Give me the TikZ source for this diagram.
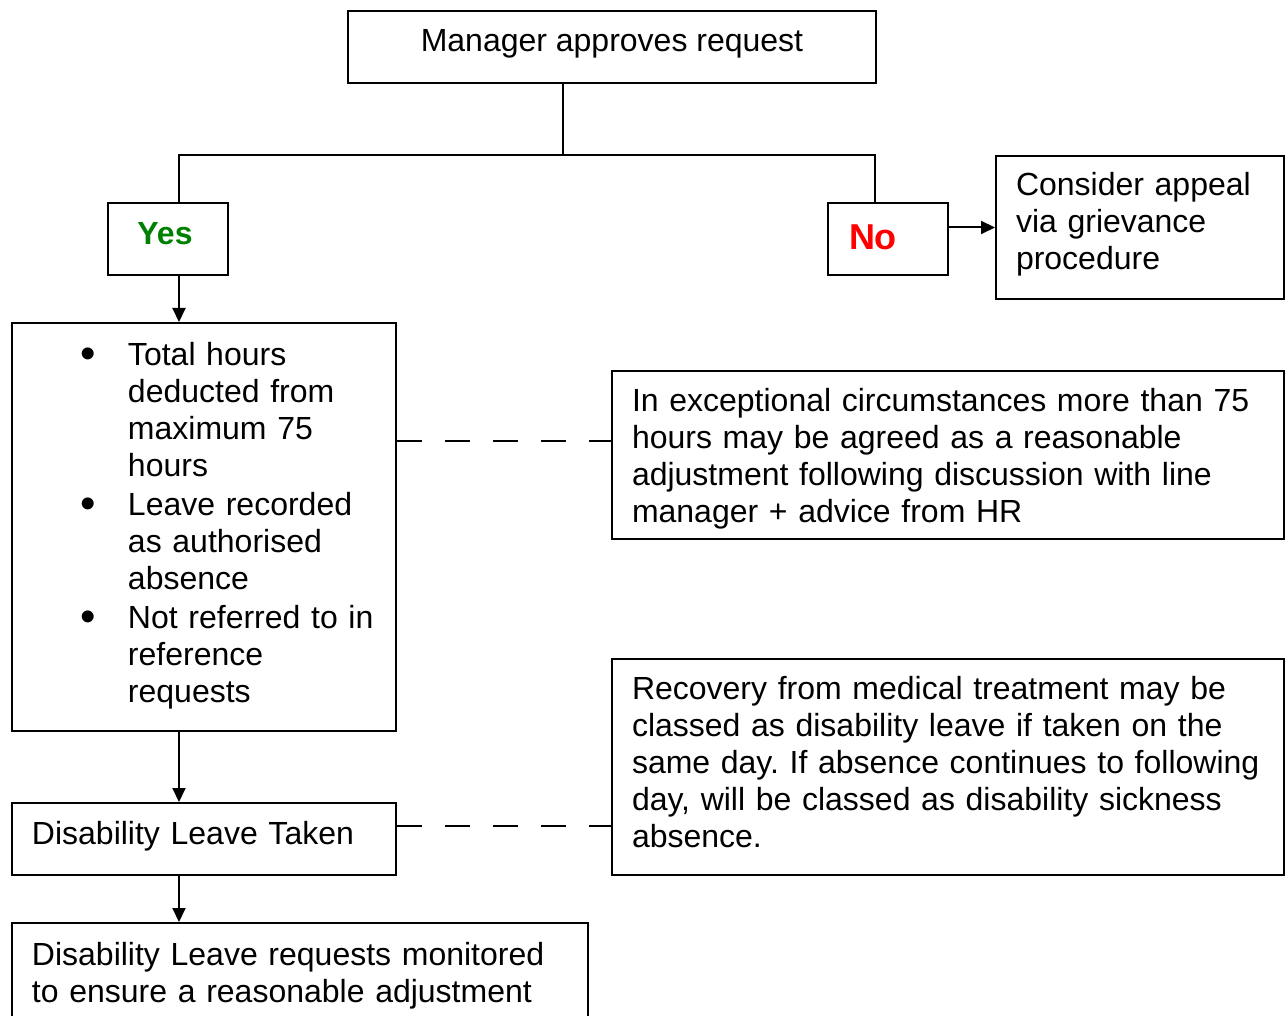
\documentclass[tikz,border=0pt]{standalone}
\usepackage{fontspec}
\setmainfont{Liberation Sans}
\usepackage{enumitem}
\usetikzlibrary{arrows.meta}
\definecolor{yesgreen}{RGB}{0,128,0}
\definecolor{nored}{RGB}{255,0,0}
\frenchspacing
\hyphenpenalty=10000
\newcommand{\bigbul}{\raisebox{-1.7pt}{\fontsize{22}{22}\selectfont\textbullet}}
\begin{document}
\begin{tikzpicture}[x=0.5pt,y=-0.5pt,
  box/.style={draw, line width=1pt, anchor=north west, inner xsep=10pt, inner ysep=0pt,
    align=left, font=\fontsize{16}{18.5}\selectfont\frenchspacing},
  arr/.style={line width=1pt, -{Triangle[length=7pt,width=6.5pt]}},
  conn/.style={line width=1pt},
  dashconn/.style={line width=1pt, dash pattern=on 12.5pt off 11.5pt}]
\useasboundingbox (0,0) rectangle (1287,1016);
\clip (0,0) rectangle (1287,1016);

\node[box, minimum width=264pt, minimum height=36pt, align=center,
  text height=11.5pt, text depth=6.5pt] (mgr) at (347,10) {Manager approves request};

\node[box, minimum width=60pt, minimum height=36pt, inner xsep=0pt, align=center,
  text height=11.5pt, text depth=5.5pt, font=\fontsize{16}{18.5}\selectfont\bfseries,
  text=yesgreen] (yes) at (107,202) {Yes\hspace*{3pt}};

\node[box, minimum height=36pt, inner xsep=10.5pt, text width=39pt,
  text height=12.9pt, text depth=1.9pt, font=\fontsize{18}{20}\selectfont\bfseries,
  text=nored] (no) at (827,202) {No};

\node[box, minimum height=71.5pt, text width=124pt] (appeal) at (995,155)
  {Consider appeal\\ via grievance\\ procedure\rule[-6.4pt]{0pt}{0pt}};

\node[box, minimum height=204pt, text width=172pt] (bul) at (11,322) {%
  \begin{itemize}[leftmargin=48pt, labelsep=16pt, itemsep=1pt, topsep=0pt,
    parsep=0pt, partopsep=0pt, label=\bigbul]
  \item Total hours\newline deducted from\newline maximum 75\newline hours
  \item Leave recorded\newline as authorised\newline absence
  \item Not referred to in\newline reference\newline requests\rule[-11.4pt]{0pt}{0pt}
  \end{itemize}};

\node[box, minimum height=84pt, text width=316pt] (exc) at (611,370)
  {\rule{0pt}{15.7pt}In exceptional circumstances more than 75\\ hours may be agreed as a reasonable\\
   adjustment following discussion with line\\ manager + advice from HR};

\node[box, minimum height=36pt, text width=172pt, text height=11.5pt, text depth=6pt]
  (taken) at (11,802) {Disability Leave Taken};

\node[box, minimum height=108pt, text width=316pt] (rec) at (611,658)
  {Recovery from medical treatment may be\\ classed as disability leave if taken on the\\
   same day. If absence continues to following\\ day, will be classed as disability sickness\\
   absence.\rule[-5pt]{0pt}{0pt}};

\node[box, minimum height=53pt, text width=268pt] (mon) at (11,922)
  {Disability Leave requests monitored\\ to ensure a reasonable adjustment};

\coordinate (xl) at (179,0);
\coordinate (xr) at (875,0);
\coordinate (j) at (563,155);
\coordinate (d1) at (0,441);
\coordinate (d2) at (0,826);

\draw[conn] (mgr.south -| j) -- (j);
\draw[conn] (yes.north -| xl) |- (j) -| (no.north -| xr);
\draw[arr] (yes.south -| xl) -- (bul.north -| xl);
\draw[arr] (no.east |- appeal.west) -- (appeal.west);
\draw[arr] (bul.south -| xl) -- (taken.north -| xl);
\draw[arr] (taken.south -| xl) -- (mon.north -| xl);
\draw[dashconn] (bul.east |- d1) -- (exc.west |- d1);
\draw[dashconn] (taken.east |- d2) -- (rec.west |- d2);
\end{tikzpicture}
\end{document}
